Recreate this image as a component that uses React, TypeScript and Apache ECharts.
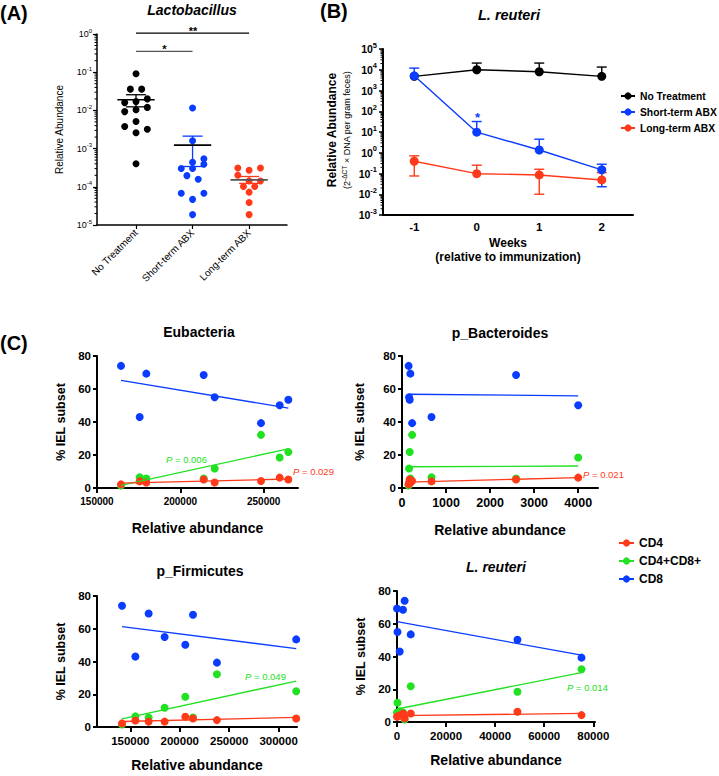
import React, { useEffect, useRef } from 'react';
import * as echarts from 'echarts';

const FONT = '"Liberation Sans", Arial, Helvetica, sans-serif';

// ---------------- Panel A : Lactobacillus ----------------
const groupsA = ['No Treatment', 'Short-term ABX', 'Long-term ABX'];
const noTreatmentA = [0.091, 0.036, 0.036, 0.016, 0.017, 0.02, 0.0093, 0.0104, 0.012, 0.0051, 0.0038, 0.0032, 0.0026, 0.0004];
const noTreatmentJitterA = [0, -0.1, 0.1, -0.2, 0, 0.2, -0.2, 0, 0.2, 0, -0.2, 0.2, 0, 0];
const shortTermA = [0.0115, 0.0016, 0.00044, 0.00054, 0.0003, 0.0003, 0.00039, 0.000196, 0.000158, 0.0000676, 0.0000676, 0.0000468, 0.0000187];
const shortTermJitterA = [0, 0, 0, 0.2, -0.2, 0, 0.2, -0.1, 0.1, -0.2, 0.2, 0, 0];
const longTermA = [0.00031, 0.00027, 0.00031, 0.0002, 0.000142, 0.000142, 0.000102, 0.000102, 0.0000724, 0.0000389, 0.0000187];
const longTermJitterA = [-0.2, 0, 0.2, -0.2, 0.2, 0, -0.1, 0.1, 0, 0, 0];
const meanA = [0.019, 0.00123, 0.000152];
const semHighA = [0.0257, 0.00212, 0.000186];
const semLowA = [0.0124, 0.00034, 0.000123];
const sigFromA = [0, 0];
const sigToA = [1, 2];
const sigLevelA = [0.35, 1.06];

// ---------------- Panel B : L. reuteri time course ----------------
const weeksB = [-1, 0, 1, 2];
const namesB = ['No Treatment', 'Short-term ABX', 'Long-term ABX'];
const noTreatmentB = [4800, 10000, 8000, 4800];
const noTreatmentHighB = [null, 21000, 21000, 13500];
const noTreatmentLowB = [null, null, null, null];
const shortTermB = [5100, 9.8, 1.36, 0.15];
const shortTermHighB = [12000, 32, 4.5, 0.28];
const shortTermLowB = [null, null, null, 0.023];
const longTermB = [0.39, 0.098, 0.085, 0.049];
const longTermHighB = [0.71, 0.25, 0.16, 0.11];
const longTermLowB = [0.076, null, 0.01, null];

// ---------------- Panel C : IEL subsets vs abundance ----------------
const subsetNames = ['CD4', 'CD4+CD8+', 'CD8'];
const cd4IEL = [2.2, 4.0, 3.3, 5.2, 3.3, 4.2, 6.3, 5.2];
const dpIEL = [1.5, 6.5, 5.8, 5.8, 11.8, 32.2, 18.5, 21.8];
const cd8IEL = [74, 43, 69.3, 68.5, 55, 39.3, 50.2, 53.5];
const eubacteriaX = [164400, 175600, 179600, 214000, 220600, 248400, 259600, 264800];
const bacteroidesX = [150, 670, 190, 2590, 160, 230, 4000, 175];
const firmicutesX = [141600, 155100, 168500, 213400, 184700, 237600, 205600, 317800];
const reuteriX = [3100, 1100, 0, 2450, 200, 75200, 49100, 5600];
const eubacteriaTicks = [150000, 200000, 250000];
const bacteroidesTicks = [0, 1000, 2000, 3000, 4000];
const firmicutesTicks = [150000, 200000, 250000, 300000];
const reuteriTicks = [0, 20000, 40000, 60000, 80000];

// ---------------- styles ----------------
const BLACK = '#000000';
const BLUE = '#0a3cff';
const RED = '#ff3a1a';
const GREEN = '#22e022';
const colorsA = [BLACK, BLUE, RED];
const meanColorsA = [BLACK, BLACK, '#555555'];
const colorsB = [BLACK, BLUE, RED];
const subsetColors = [RED, GREEN, BLUE];

function fitLine(xs: number[], ys: number[]) {
  const n = xs.length;
  const mx = xs.reduce((a, b) => a + b, 0) / n;
  const my = ys.reduce((a, b) => a + b, 0) / n;
  let sxy = 0;
  let sxx = 0;
  for (let i = 0; i < n; i++) {
    sxy += (xs[i] - mx) * (ys[i] - my);
    sxx += (xs[i] - mx) * (xs[i] - mx);
  }
  const b = sxy / sxx;
  const a = my - b * mx;
  const x0 = Math.min(...xs);
  const x1 = Math.max(...xs);
  return [[x0, a + b * x0], [x1, a + b * x1]];
}

function minorTicks(axisIdx: number, xMin: number, e0: number, e1: number) {
  const vals: number[][] = [];
  for (let k = e0; k < e1; k++) for (let d = 2; d <= 9; d++) vals.push([xMin, d * Math.pow(10, k)]);
  return {
    type: 'custom',
    xAxisIndex: axisIdx,
    yAxisIndex: axisIdx,
    silent: true,
    z: 1,
    data: vals,
    encode: { x: 0, y: 1 },
    renderItem: (_p: any, api: any) => {
      const p = api.coord([api.value(0), api.value(1)]);
      return {
        type: 'line',
        shape: { x1: p[0] - 2.5, y1: p[1], x2: p[0], y2: p[1] },
        style: { stroke: '#000', lineWidth: 1 },
      };
    },
  };
}

function errSeriesB(vals: number[], hi: (number | null)[], lo: (number | null)[], color: string) {
  return {
    type: 'custom',
    xAxisIndex: 1,
    yAxisIndex: 1,
    silent: true,
    z: 2,
    data: weeksB.map((w, i) => [w, vals[i]]),
    encode: { x: 0, y: 1 },
    renderItem: (params: any, api: any) => {
      const i = params.dataIndex;
      const x = api.value(0);
      const p = api.coord([x, vals[i]]);
      const children: any[] = [];
      const cw = 5;
      const st = { stroke: color, lineWidth: 1.4 };
      [hi[i], lo[i]].forEach((v) => {
        if (v == null) return;
        const q = api.coord([x, v]);
        children.push({ type: 'line', shape: { x1: p[0], y1: p[1], x2: q[0], y2: q[1] }, style: st });
        children.push({ type: 'line', shape: { x1: q[0] - cw, y1: q[1], x2: q[0] + cw, y2: q[1] }, style: st });
      });
      return { type: 'group', children };
    },
  };
}

const powLabelA = (v: number) => `{b|10}{s|${Math.round(Math.log10(v))}}`;

function cXAxis(gi: number, min: number, max: number, ticks: number[], fs: number, gap: number) {
  return {
    type: 'value',
    gridIndex: gi,
    min,
    max,
    axisLine: { show: true, onZero: false, lineStyle: { color: '#000', width: 2 } },
    axisTick: { show: true, length: 5, customValues: ticks, lineStyle: { color: '#000', width: 2 } },
    axisLabel: {
      customValues: ticks,
      formatter: (v: number) => String(v),
      fontSize: fs,
      fontWeight: 'bold',
      color: '#000',
      margin: 8,
      fontFamily: FONT,
    },
    splitLine: { show: false },
    name: 'Relative abundance',
    nameLocation: 'middle',
    nameGap: gap,
    nameTextStyle: { fontSize: 14, fontWeight: 'bold', color: '#000', fontFamily: FONT },
  };
}

function cYAxis(gi: number, gap: number) {
  return {
    type: 'value',
    gridIndex: gi,
    min: 0,
    max: 80,
    interval: 20,
    axisLine: { show: true, onZero: false, lineStyle: { color: '#000', width: 2 } },
    axisTick: { show: true, length: 4, lineStyle: { color: '#000', width: 2 } },
    axisLabel: { fontSize: 11.5, fontWeight: 'bold', color: '#000', margin: 6, fontFamily: FONT },
    splitLine: { show: false },
    name: '% IEL subset',
    nameLocation: 'middle',
    nameGap: gap,
    nameTextStyle: { fontSize: 12.5, fontWeight: 'bold', color: '#000', fontFamily: FONT },
  };
}

function cPanelSeries(gi: number, xs: number[], tag: string) {
  const vals = [cd4IEL, dpIEL, cd8IEL];
  const out: any[] = [];
  [2, 1, 0].forEach((s) => {
    out.push({
      type: 'scatter',
      name: `${subsetNames[s]} · ${tag}`,
      xAxisIndex: gi,
      yAxisIndex: gi,
      data: xs.map((x, i) => [x, vals[s][i]]),
      symbolSize: 8,
      itemStyle: { color: subsetColors[s], opacity: 1 },
      z: 3,
    });
  });
  [2, 1, 0].forEach((s) => {
    out.push({
      type: 'line',
      name: `${subsetNames[s]} fit · ${tag}`,
      xAxisIndex: gi,
      yAxisIndex: gi,
      data: fitLine(xs, vals[s]),
      symbol: 'none',
      silent: true,
      lineStyle: { color: subsetColors[s], width: 1.3 },
      z: 4,
    });
  });
  return out;
}

function txt(text: string, x: number, y: number, size: number, o: any = {}) {
  return {
    type: 'text',
    x,
    y,
    rotation: o.rotation || 0,
    silent: true,
    style: {
      text,
      fill: o.color || '#000',
      fontSize: size,
      fontWeight: o.weight || 'bold',
      fontStyle: o.italic ? 'italic' : 'normal',
      fontFamily: FONT,
      align: o.align || 'center',
      verticalAlign: 'middle',
      rich: o.rich,
    },
  };
}

function pLabel(value: string, x: number, y: number, color: string) {
  return txt(`{i|P}{n| = ${value}}`, x, y, 9.5, {
    align: 'left',
    weight: 'normal',
    color,
    rich: {
      i: { fontStyle: 'italic', fontSize: 9.5, fill: color, color, fontFamily: FONT },
      n: { fontSize: 9.5, fill: color, color, fontFamily: FONT },
    },
  });
}

function buildOption(): any {
  const jitterData = (vals: number[], jit: number[], g: number) => vals.map((v, i) => [g + jit[i], v]);

  const series: any[] = [];
  // legend entries for panel C
  subsetNames.forEach((n, s) => {
    series.push({
      type: 'line',
      name: n,
      xAxisIndex: 2,
      yAxisIndex: 2,
      data: [],
      symbol: 'circle',
      symbolSize: 8,
      itemStyle: { color: subsetColors[s] },
      lineStyle: { color: subsetColors[s], width: 1.5 },
    });
  });

  // Panel A
  series.push(minorTicks(0, -0.69, -5, 0));
  [
    [noTreatmentA, noTreatmentJitterA],
    [shortTermA, shortTermJitterA],
    [longTermA, longTermJitterA],
  ].forEach(([vals, jit], g) => {
    series.push({
      type: 'scatter',
      name: groupsA[g] + ' (A)',
      xAxisIndex: 0,
      yAxisIndex: 0,
      data: jitterData(vals as number[], jit as number[], g),
      symbolSize: 7,
      itemStyle: { color: colorsA[g], opacity: 1 },
      z: 3,
    });
  });
  series.push({
    type: 'custom',
    xAxisIndex: 0,
    yAxisIndex: 0,
    silent: true,
    z: 5,
    data: meanA.map((m, i) => [i, m, semHighA[i], semLowA[i]]),
    encode: { x: 0, y: 1 },
    renderItem: (params: any, api: any) => {
      const i = params.dataIndex;
      const x = api.value(0);
      const m = api.value(1);
      const a = api.coord([x - 0.33, m]);
      const b = api.coord([x + 0.33, m]);
      const h = api.coord([x, api.value(2)]);
      const l = api.coord([x, api.value(3)]);
      const cw = 10;
      const es = { stroke: colorsA[i], lineWidth: 1.3 };
      return {
        type: 'group',
        children: [
          { type: 'line', shape: { x1: h[0], y1: h[1], x2: l[0], y2: l[1] }, style: es },
          { type: 'line', shape: { x1: h[0] - cw, y1: h[1], x2: h[0] + cw, y2: h[1] }, style: es },
          { type: 'line', shape: { x1: l[0] - cw, y1: l[1], x2: l[0] + cw, y2: l[1] }, style: es },
          { type: 'line', shape: { x1: a[0], y1: a[1], x2: b[0], y2: b[1] }, style: { stroke: meanColorsA[i], lineWidth: 1.6 } },
        ],
      };
    },
  });
  sigFromA.forEach((f, k) => {
    series.push({
      type: 'line',
      xAxisIndex: 0,
      yAxisIndex: 0,
      silent: true,
      clip: false,
      symbol: 'none',
      data: [[f, sigLevelA[k]], [sigToA[k], sigLevelA[k]]],
      lineStyle: { color: k === 0 ? '#555' : '#000', width: 1.3 },
    });
  });

  // Panel B
  series.push(minorTicks(1, -1.5, -3, 5));
  const bVals = [noTreatmentB, shortTermB, longTermB];
  const bHi = [noTreatmentHighB, shortTermHighB, longTermHighB];
  const bLo = [noTreatmentLowB, shortTermLowB, longTermLowB];
  bVals.forEach((v, g) => series.push(errSeriesB(v, bHi[g] as any, bLo[g] as any, colorsB[g])));
  bVals.forEach((v, g) => {
    series.push({
      type: 'line',
      name: namesB[g],
      xAxisIndex: 1,
      yAxisIndex: 1,
      data: weeksB.map((w, i) => [w, v[i]]),
      symbol: 'circle',
      symbolSize: 9,
      itemStyle: { color: colorsB[g] },
      lineStyle: { color: colorsB[g], width: 1.4 },
      z: 3,
    });
  });

  // Panel C
  series.push(...cPanelSeries(2, eubacteriaX, 'Eubacteria'));
  series.push(...cPanelSeries(3, bacteroidesX, 'p_Bacteroides'));
  series.push(...cPanelSeries(4, firmicutesX, 'p_Firmicutes'));
  series.push(...cPanelSeries(5, reuteriX, 'L. reuteri'));

  const grids = [
    { left: 97, top: 34, width: 190, height: 191 },
    { left: 383, top: 49, width: 250, height: 166 },
    { left: 97, top: 356, width: 201, height: 132 },
    { left: 402, top: 356, width: 196, height: 132 },
    { left: 97, top: 596, width: 200, height: 131 },
    { left: 397, top: 591, width: 198, height: 131 },
  ].map((g) => ({ ...g, containLabel: false, outerBoundsMode: 'none' }));

  return {
    animation: false,
    backgroundColor: '#ffffff',
    textStyle: { fontFamily: FONT },
    grid: grids,
    legend: [
      {
        data: namesB,
        orient: 'vertical',
        left: 620,
        top: 91,
        padding: 0,
        itemWidth: 14,
        itemHeight: 9,
        itemGap: 6,
        selectedMode: false,
        textStyle: { fontSize: 10.3, fontWeight: 'bold', color: '#000', fontFamily: FONT },
      },
      {
        data: subsetNames,
        orient: 'vertical',
        left: 618,
        top: 537,
        padding: 0,
        itemWidth: 15,
        itemHeight: 9,
        itemGap: 6,
        selectedMode: false,
        textStyle: { fontSize: 12, fontWeight: 'bold', color: '#000', fontFamily: FONT },
      },
    ],
    xAxis: [
      {
        type: 'value',
        gridIndex: 0,
        min: -0.69,
        max: 2.67,
        axisLine: { show: true, onZero: false, lineStyle: { color: '#000', width: 1.5 } },
        axisTick: { show: true, length: 4, customValues: [0, 1, 2], lineStyle: { color: '#000', width: 1.2 } },
        axisLabel: {
          customValues: [0, 1, 2],
          formatter: (v: number) => groupsA[Math.round(v)] ?? '',
          rotate: 45,
          fontSize: 10,
          color: '#000',
          margin: 6,
          fontFamily: FONT,
        },
        splitLine: { show: false },
      },
      {
        type: 'value',
        gridIndex: 1,
        min: -1.5,
        max: 2.5,
        axisLine: { show: true, onZero: false, lineStyle: { color: '#000', width: 2 } },
        axisTick: { show: false },
        axisLabel: {
          customValues: weeksB,
          formatter: (v: number) => String(v),
          fontSize: 11.5,
          fontWeight: 'bold',
          color: '#000',
          margin: 6,
          fontFamily: FONT,
        },
        splitLine: { show: false },
        name: 'Weeks\n(relative to immunization)',
        nameLocation: 'middle',
        nameGap: 21,
        nameTextStyle: { fontSize: 12, fontWeight: 'bold', color: '#000', lineHeight: 14, fontFamily: FONT },
      },
      cXAxis(2, 150000, 270600, eubacteriaTicks, 10, 33),
      cXAxis(3, 0, 4450, bacteroidesTicks, 12.5, 35),
      cXAxis(4, 116300, 318600, firmicutesTicks, 11.5, 31),
      cXAxis(5, 0, 80700, reuteriTicks, 11.5, 31),
    ],
    yAxis: [
      {
        type: 'log',
        logBase: 10,
        gridIndex: 0,
        min: 0.00001,
        max: 1,
        splitNumber: 5,
        axisLine: { show: true, onZero: false, lineStyle: { color: '#000', width: 1.5 } },
        axisTick: { show: true, length: 4, lineStyle: { color: '#000', width: 1.2 } },
        axisLabel: {
          formatter: powLabelA,
          margin: 5,
          color: '#000',
          rich: {
            b: { fontSize: 9, color: '#000', fontFamily: FONT },
            s: { fontSize: 6, color: '#000', padding: [0, 0, 7, 0], fontFamily: FONT },
          },
        },
        splitLine: { show: false },
        name: 'Relative Abundance',
        nameLocation: 'middle',
        nameGap: 33,
        nameTextStyle: { fontSize: 10, color: '#000', fontFamily: FONT },
      },
      {
        type: 'log',
        logBase: 10,
        gridIndex: 1,
        min: 0.001,
        max: 100000,
        splitNumber: 8,
        axisLine: { show: true, onZero: false, lineStyle: { color: '#000', width: 2 } },
        axisTick: { show: true, length: 4, lineStyle: { color: '#000', width: 1.5 } },
        axisLabel: {
          formatter: (v: number) => `{b|10}{s|${Math.round(Math.log10(v))}}`,
          margin: 6,
          color: '#000',
          rich: {
            b: { fontSize: 10.5, fontWeight: 'bold', color: '#000', fontFamily: FONT },
            s: { fontSize: 7.5, fontWeight: 'bold', color: '#000', padding: [0, 0, 8, 0], fontFamily: FONT },
          },
        },
        splitLine: { show: false },
      },
      cYAxis(2, 30),
      cYAxis(3, 36),
      cYAxis(4, 30),
      cYAxis(5, 30),
    ],
    series,
    graphic: [
      txt('(A)', 0, 13, 20, { align: 'left' }),
      txt('Lactobacillus', 192, 10, 14, { italic: true }),
      txt('*', 164.5, 49, 11),
      txt('**', 193, 31, 11),
      txt('(B)', 320, 11, 20, { align: 'left' }),
      txt('L. reuteri', 509, 15, 14.5, { italic: true }),
      txt('Relative Abundance', 332, 130, 12, { rotation: Math.PI / 2 }),
      txt('{a|(2}{s|-ΔCT}{a| × DNA per gram feces)}', 347, 130, 9, {
        rotation: Math.PI / 2,
        weight: 'normal',
        rich: {
          a: { fontSize: 9, fill: '#000', color: '#000', fontFamily: FONT },
          s: { fontSize: 6.5, fill: '#000', color: '#000', padding: [0, 0, 6, 0], fontFamily: FONT },
        },
      }),
      txt('*', 477.5, 117, 13, { color: BLUE }),
      txt('(C)', 0, 343, 20, { align: 'left' }),
      txt('Eubacteria', 199, 332, 14),
      txt('p_Bacteroides', 500, 333, 14),
      txt('p_Firmicutes', 200, 571, 14),
      txt('L. reuteri', 496, 567, 14, { italic: true }),
      pLabel('0.006', 166, 459, GREEN),
      pLabel('0.029', 293, 471, RED),
      pLabel('0.021', 583, 474, RED),
      pLabel('0.049', 245, 676, GREEN),
      pLabel('0.014', 567, 687, GREEN),
    ],
  };
}

export default function App() {
  const ref = useRef<HTMLDivElement>(null);
  useEffect(() => {
    document.body.style.margin = '0';
    const chart = echarts.init(ref.current as HTMLDivElement, null, { renderer: 'svg' });
    chart.setOption(buildOption());
    return () => chart.dispose();
  }, []);
  return <div ref={ref} style={{ width: 719, height: 776, background: '#fff' }} />;
}
